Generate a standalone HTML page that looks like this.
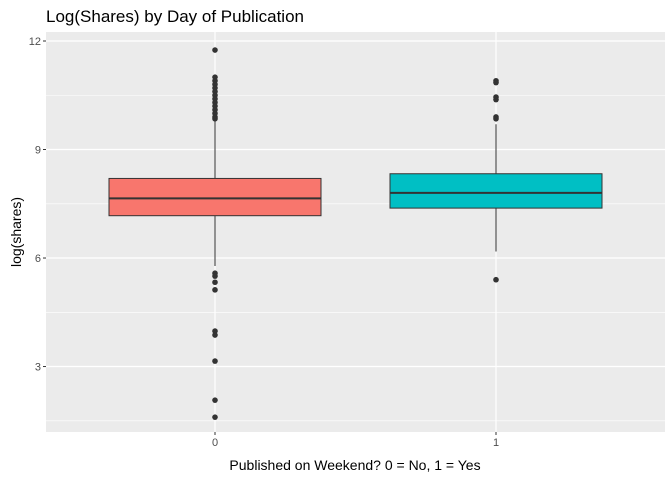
<!DOCTYPE html>
<html><head><meta charset="utf-8"><style>
body{margin:0;background:#fff;font-family:"Liberation Sans",sans-serif}
</style></head><body>
<svg id="c" width="672" height="480" xmlns="http://www.w3.org/2000/svg"></svg>
<script>
const categories=["0","1"];
const q1=[7.17,7.38];
const medians=[7.65,7.80];
const q3=[8.20,8.33];
const whiskLo=[5.78,6.18];
const whiskHi=[9.80,9.70];
const outliers0=[11.75,11.0,10.9,10.8,10.7,10.6,10.5,10.4,10.3,10.2,10.1,10.0,9.9,9.85,5.58,5.5,5.33,5.12,3.98,3.87,3.15,2.07,1.6];
const outliers1=[10.9,10.85,10.45,10.38,9.9,9.85,5.4];
const outliers=[outliers0,outliers1];
const yTicks=[3,6,9,12];
const colors=["#F8766D","#00BFC4"];
const svg=document.getElementById('c');
const NS="http://www.w3.org/2000/svg";
const L=46,R=665,T=32,B=432;
const y=v=>41+(12-v)*36.17;
const xc=i=>215+i*281;
const hw=106;
function mk(t,a,p){const e=document.createElementNS(NS,t);for(const k in a)e.setAttribute(k,a[k]);(p||svg).appendChild(e);return e;}
let e;
e=mk('rect',{x:L,y:T,width:R-L,height:B-T,fill:'#EBEBEB'});


yTicks.forEach((v,i)=>{
 if(i<yTicks.length){const m=mk('line',{x1:L,x2:R,y1:y(v-1.5),y2:y(v-1.5),stroke:'#fff','stroke-width':0.6});}
 const g=mk('line',{x1:L,x2:R,y1:y(v),y2:y(v),stroke:'#fff','stroke-width':1.2});
 
 
 const t=mk('text',{x:41,y:y(v)+4,'text-anchor':'end','font-size':11,fill:'#4D4D4D'});t.textContent=v;
 
 
 mk('line',{x1:43,x2:46,y1:y(v),y2:y(v),stroke:'#333'});
});
categories.forEach((c,i)=>{
 const x=xc(i);
 const g=mk('line',{x1:x,x2:x,y1:T,y2:B,stroke:'#fff','stroke-width':1.2});
 
 
 const w=mk('line',{x1:x,x2:x,y1:y(whiskHi[i]),y2:y(whiskLo[i]),stroke:'#333','stroke-width':1});
 
 
 const b=mk('rect',{x:x-hw,y:y(q3[i]),width:2*hw,height:y(q1[i])-y(q3[i]),fill:colors[i],stroke:'#333','stroke-width':1});
 
 
 const m=mk('line',{x1:x-hw,x2:x+hw,y1:y(medians[i]),y2:y(medians[i]),stroke:'#333','stroke-width':2});
 
 
 outliers[i].forEach(v=>{const p=mk('circle',{cx:x,cy:y(v),r:2.8,fill:'#333'});
  
  });
 mk('line',{x1:x,x2:x,y1:B,y2:B+3,stroke:'#333'});
 const t=mk('text',{x:x,y:B+14,'text-anchor':'middle','font-size':11,fill:'#4D4D4D'});t.textContent=c;
 
 
});
e=mk('text',{x:355,y:470,'text-anchor':'middle','font-size':14,fill:'#000'});e.textContent="Published on Weekend?  0 = No, 1 = Yes";


e=mk('text',{x:0,y:0,'text-anchor':'middle','font-size':14,fill:'#000',transform:'translate(21,232) rotate(-90)'});e.textContent="log(shares)";


e=mk('text',{x:46,y:22,'font-size':17,fill:'#000'});e.textContent="Log(Shares) by Day of Publication";


</script>
</body></html>
